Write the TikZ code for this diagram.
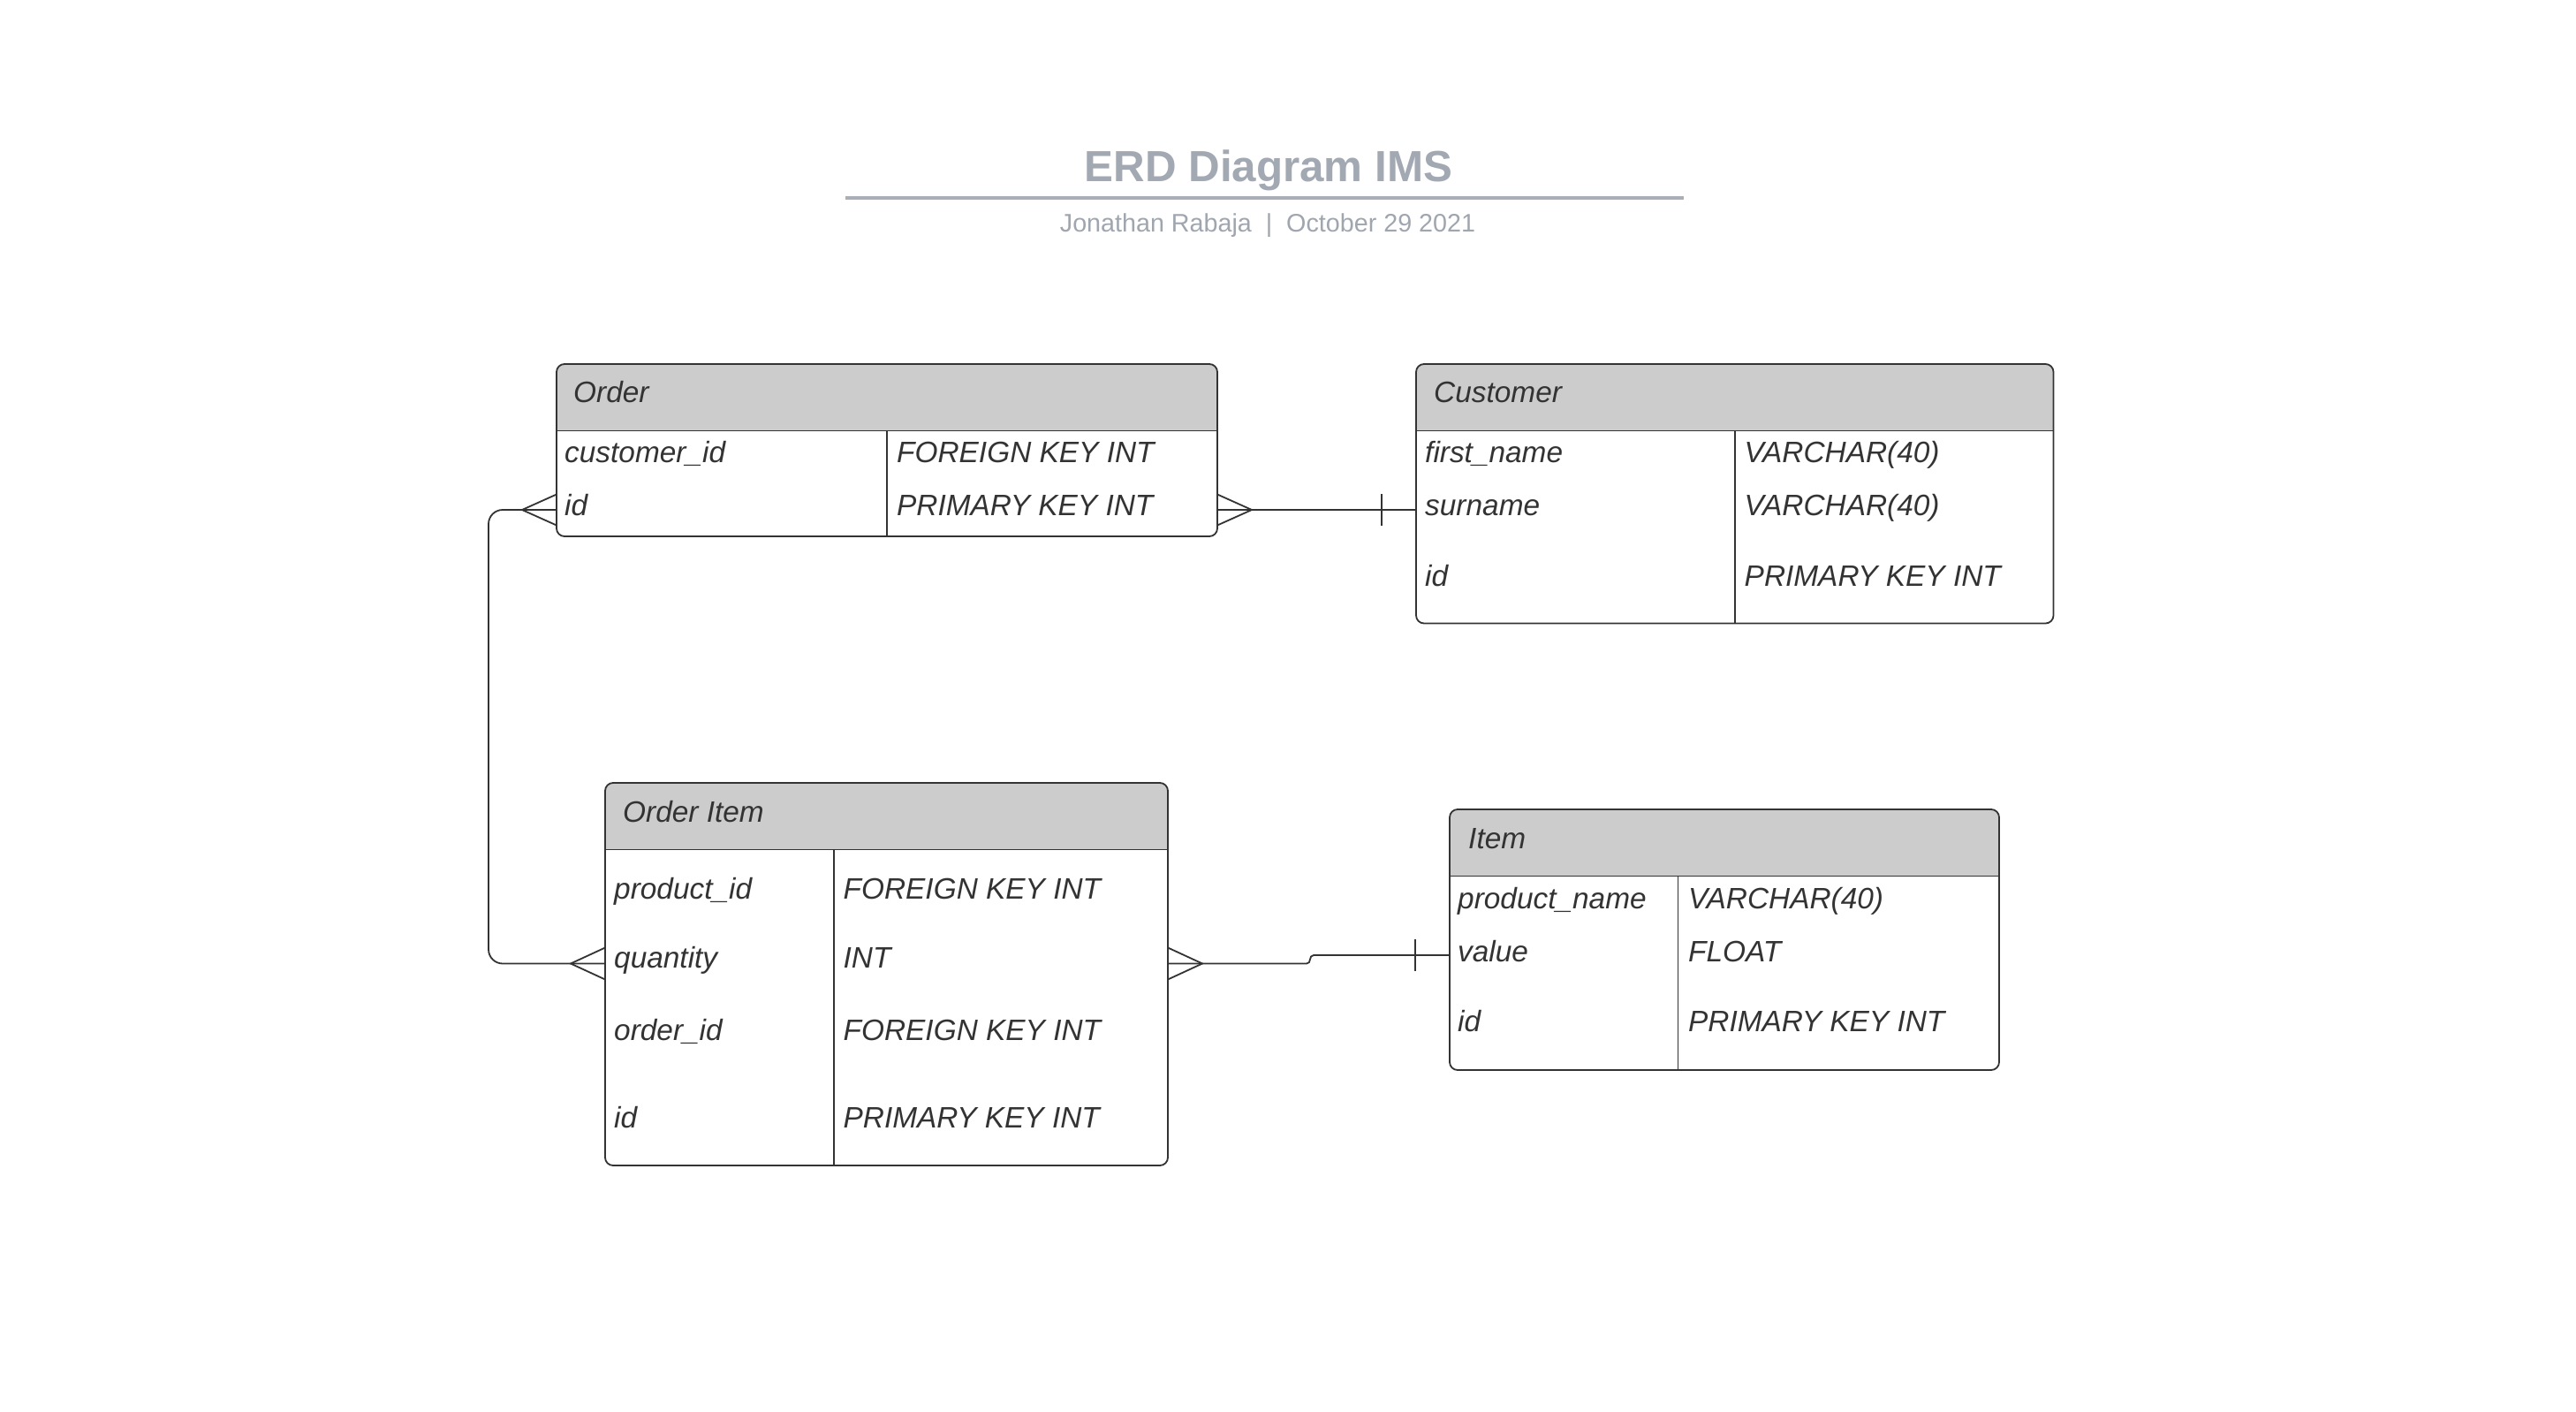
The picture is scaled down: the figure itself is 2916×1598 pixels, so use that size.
\documentclass[tikz,border=0pt]{standalone}
\usepackage{fontspec}
\setmainfont{Liberation Sans}
\usetikzlibrary{calc}
\pgfdeclarelayer{back}
\pgfdeclarelayer{bg}
\pgfsetlayers{back,bg,main}
\definecolor{linec}{HTML}{333333}
\definecolor{txtc}{HTML}{333333}
\definecolor{hdrc}{HTML}{CCCCCC}
\definecolor{titlec}{HTML}{A3A9B3}
\definecolor{rulec}{HTML}{A9AEB8}
\definecolor{subc}{HTML}{A0A6AF}
\newcommand{\erdfieldfont}{\fontsize{33.4}{40}\selectfont\itshape}
\newcommand{\erdhead}[1]{%
  \begin{pgfonlayer}{bg}
    \begin{scope}
      \clip[rounded corners=9pt] (#1.north west) rectangle (#1.south east);
      \fill[hdrc] (#1.north west) rectangle ([yshift=-75.5pt]#1.north east);
    \end{scope}
  \end{pgfonlayer}
  \draw[sepline] ([yshift=-75.5pt]#1.north west) -- ([yshift=-75.5pt]#1.north east);
}
\begin{document}
\begin{tikzpicture}[x=1pt,y=-1pt,
  tbox/.style={draw=linec, line width=1.8pt, rounded corners=9pt, inner sep=0pt, outer sep=0pt, anchor=north west},
  sepline/.style={draw=linec, line width=1.8pt},
  divline/.style={draw=linec, line width=1.5pt},
  fld/.style={anchor=base west, inner sep=0pt, font=\erdfieldfont, text=txtc},
  conn/.style={draw=linec, line width=1.8pt},
]
\begin{pgfonlayer}{back}
\fill[white] (0,0) rectangle (2916,1598);
\end{pgfonlayer}
\useasboundingbox (0,0) rectangle (2916,1598);

% Title
\node[anchor=base, inner sep=0pt, font=\fontsize{49.3}{56}\selectfont\bfseries, text=titlec] (title) at (1436,205) {ERD Diagram IMS};
\draw[rulec, line width=4pt] (957,224) -- (1906,224);
\node[anchor=base, inner sep=0pt, font=\fontsize{28.7}{34}\selectfont, text=subc] (subtitle) at (1435,262) {Jonathan Rabaja\ \ |\ \ October 29 2021};

% Order
\node[tbox, minimum width=748pt, minimum height=195pt] (order) at (630,412) {};
\erdhead{order}
\draw[divline] (1004,487.5) -- (1004,607);
\node[fld] (order-h) at (649,455.5) {Order};
\node[fld] (order-f1) at (639,523) {customer\_id};
\node[fld] (order-t1) at (1015,523) {FOREIGN KEY INT};
\node[fld] (order-f2) at (639,583) {id};
\node[fld] (order-t2) at (1015,583) {PRIMARY KEY INT};

% Customer
\node[tbox, minimum width=721.5pt, minimum height=293.5pt] (cust) at (1603,412) {};
\erdhead{cust}
\draw[divline] (1964,487.5) -- (1964,705.5);
\node[fld] (cust-h) at (1623,455.5) {Customer};
\node[fld] (cust-f1) at (1613,523) {first\_name};
\node[fld] (cust-t1) at (1974.5,523) {VARCHAR(40)};
\node[fld] (cust-f2) at (1613,583) {surname};
\node[fld] (cust-t2) at (1974.5,583) {VARCHAR(40)};
\node[fld] (cust-f3) at (1613,663) {id};
\node[fld] (cust-t3) at (1974.5,663) {PRIMARY KEY INT};

% Order Item
\node[tbox, minimum width=637pt, minimum height=433pt] (oitem) at (685,886) {};
\erdhead{oitem}
\draw[divline] (944,961) -- (944,1319);
\node[fld] (oitem-h) at (705,930) {Order Item};
\node[fld] (oitem-f1) at (695,1017) {product\_id};
\node[fld] (oitem-t1) at (954.5,1017) {FOREIGN KEY INT};
\node[fld] (oitem-f2) at (695,1095) {quantity};
\node[fld] (oitem-t2) at (954.5,1095) {INT};
\node[fld] (oitem-f3) at (695,1177) {order\_id};
\node[fld] (oitem-t3) at (954.5,1177) {FOREIGN KEY INT};
\node[fld] (oitem-f4) at (695,1276) {id};
\node[fld] (oitem-t4) at (954.5,1276) {PRIMARY KEY INT};

% Item
\node[tbox, minimum width=622pt, minimum height=295pt] (item) at (1641,916) {};
\erdhead{item}
\draw[divline] (1899.5,991) -- (1899.5,1211);
\node[fld] (item-h) at (1662,960) {Item};
\node[fld] (item-f1) at (1650,1028) {product\_name};
\node[fld] (item-t1) at (1911,1028) {VARCHAR(40)};
\node[fld] (item-f2) at (1650,1088) {value};
\node[fld] (item-t2) at (1911,1088) {FLOAT};
\node[fld] (item-f3) at (1650,1167) {id};
\node[fld] (item-t3) at (1911,1167) {PRIMARY KEY INT};

% connector end points
\coordinate (oR) at (order.east |- 0,577);
\coordinate (oL) at (order.west |- 0,577);
\coordinate (cL) at (cust.west |- 0,577);
\coordinate (oiL) at (oitem.west |- 0,1090.5);
\coordinate (oiR) at (oitem.east |- 0,1090.5);
\coordinate (iL) at (item.west |- 0,1081);

% Order -> Customer
\draw[conn] (oR) -- (cL);
\draw[conn] ([yshift=17.5pt]oR) -- ([xshift=39pt]oR) -- ([yshift=-17.5pt]oR);
\draw[conn] ([xshift=-39pt,yshift=18pt]cL) -- ([xshift=-39pt,yshift=-18pt]cL);

% Order -> Order Item
\draw[conn, rounded corners=16pt] (oL) -- ++(-77,0) |- (oiL);
\draw[conn] ([yshift=17.5pt]oL) -- ([xshift=-39pt]oL) -- ([yshift=-17.5pt]oL);
\draw[conn] ([yshift=18pt]oiL) -- ([xshift=-39pt]oiL) -- ([yshift=-18pt]oiL);

% Order Item -> Item
\draw[conn] (oiR) -- ($(oiR)+(157,0)$) .. controls ($(oiR)+(163,0)$) and ($(oiR)+(159,-9.5)$) .. ($(oiR)+(165,-9.5)$) -- (iL);
\draw[conn] ([yshift=18pt]oiR) -- ([xshift=39pt]oiR) -- ([yshift=-18pt]oiR);
\draw[conn] ([xshift=-39pt,yshift=18pt]iL) -- ([xshift=-39pt,yshift=-18pt]iL);
\end{tikzpicture}
\end{document}
